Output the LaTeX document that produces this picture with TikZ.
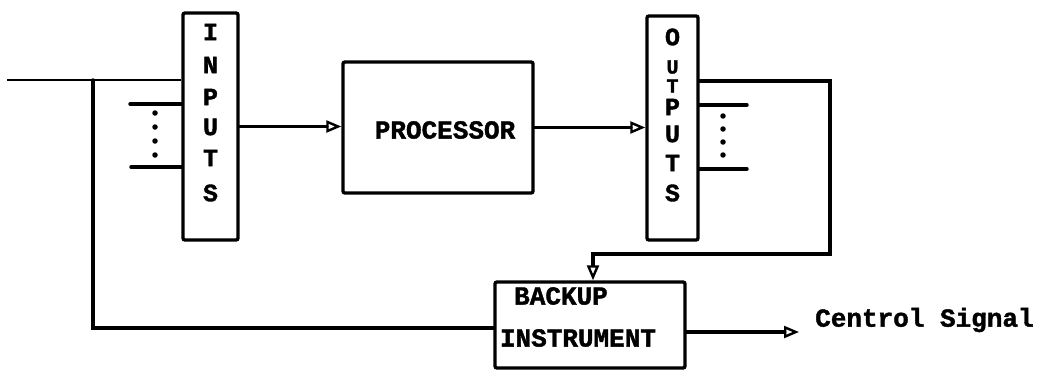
\documentclass[tikz,border=0pt]{standalone}
\usepackage{fontspec}
\newfontfamily\tw[BoldFeatures={FakeBold=1.5}]{Liberation Mono}
\usetikzlibrary{arrows.meta,calc}
\begin{document}
\begin{tikzpicture}[x=1pt,y=-1pt,
  blk/.style={draw,line width=3.4pt,rounded corners=2pt,inner sep=0pt},
  wire/.style={line width=3.4pt,line cap=round},
  arr/.style={wire,-{Triangle[open,length=15pt,width=12pt,line width=2.4pt]}},
  lbl/.style={font=\tw\bfseries\fontsize{26}{30}\selectfont,inner sep=0pt},
  vl/.style={font=\tw\bfseries\fontsize{25}{28}\selectfont,inner sep=0pt},
  vls/.style={font=\tw\bfseries\fontsize{20}{22}\selectfont,inner sep=0pt},
  dot/.style={circle,fill,inner sep=0pt,minimum size=5.5pt}]
\useasboundingbox (0,0) rectangle (1046,372);
% blocks
\node[blk,minimum width=55pt,minimum height=227pt] (inputs) at (210.5,126.5) {};
\node[blk,minimum width=190pt,minimum height=131pt] (proc) at (438,127.5) {};
\node[blk,minimum width=51pt,minimum height=224pt] (outputs) at (672.5,128) {};
\node[blk,minimum width=190pt,minimum height=86pt] (backup) at (590,325) {};
% block texts
\node[lbl] (ptxt) at (445,130) {PROCESSOR};
\node[lbl] (bk1) at (561,296) {BACKUP};
\node[lbl] (bk2) at (578,338) {INSTRUMENT};
\node[vl] (i1) at (210.5,32) {I};
\node[vl] (i2) at (210.5,65) {N};
\node[vl] (i3) at (210.5,97) {P};
\node[vl] (i4) at (210.5,127) {U};
\node[vl] (i5) at (210.5,158) {T};
\node[vl] (i6) at (210.5,193) {S};
\node[vl] (o1) at (672.5,37) {O};
\node[vls] (o2) at (672.5,67) {U};
\node[vls] (o2b) at (672.5,86) {T};
\node[vl] (o3) at (672.5,107) {P};
\node[vl] (o4) at (672.5,134) {U};
\node[vl] (o5) at (672.5,163) {T};
\node[vl] (o6) at (672.5,193) {S};
\node[lbl,anchor=west] (ctrl) at (815,320) {Centrol Signal};
% input side
\coordinate (inStart) at (7,80);
\coordinate (tap) at (93,80);
\coordinate (tapLow) at (93,328);
\draw[line width=2.6pt] (inStart) -- (inStart -| inputs.west);
\draw[wire] (tap) -- (tapLow) -- (tapLow -| backup.west);
\coordinate (in1) at (130,104);
\coordinate (in2) at (131,167);
\draw[wire] (in1) -- (in1 -| inputs.west);
\draw[wire] (in2) -- (in2 -| inputs.west);
\foreach \y [count=\k] in {113,127,141,155} \node[dot] (idot\k) at (155,\y) {};
% main flow
\draw[arr] (inputs.east) -- (inputs.east -| proc.west);
\draw[arr] (proc.east) -- (proc.east -| outputs.west);
% output side
\coordinate (oTop) at (698,81);
\coordinate (oCorner) at (830,81);
\coordinate (oLow) at (830,254);
\coordinate (oDrop) at (593,254);
\draw[arr,line cap=butt] (oTop) -- (oCorner) -- (oLow) -- (oDrop) -- (oDrop |- backup.north);
\coordinate (out1) at (747,105);
\coordinate (out2) at (747,169);
\draw[wire] (out1 -| outputs.east) -- (out1);
\draw[wire] (out2 -| outputs.east) -- (out2);
\foreach \y [count=\k] in {116,129,142,155} \node[dot] (odot\k) at (723,\y) {};
% control signal
\coordinate (cEnd) at (799,332);
\draw[arr] (cEnd -| backup.east) -- (cEnd);
\end{tikzpicture}
\end{document}
